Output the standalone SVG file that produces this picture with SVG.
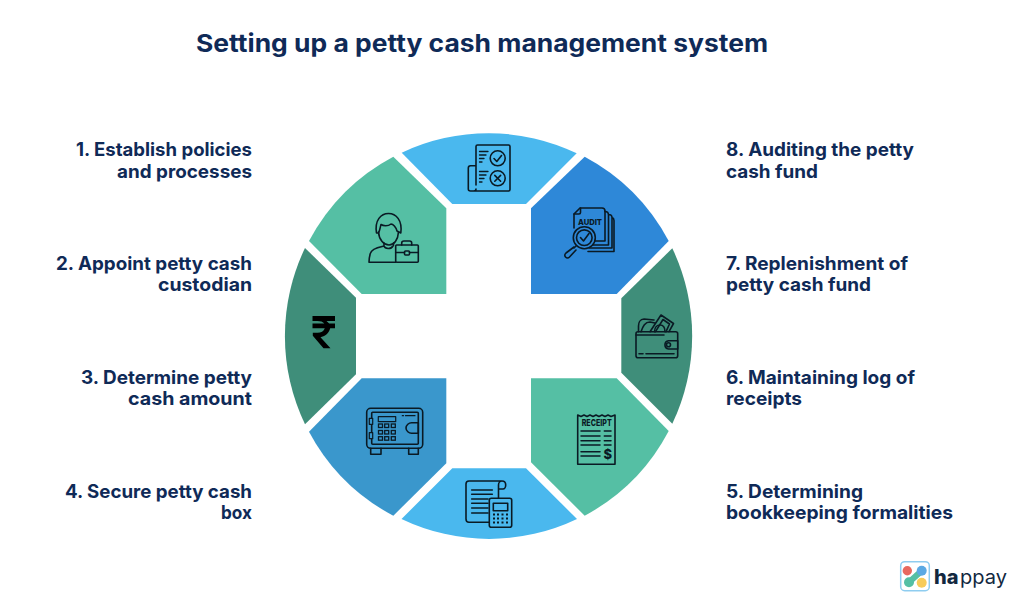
<svg xmlns="http://www.w3.org/2000/svg" width="1030" height="607" viewBox="0 0 1030 607">
<style>
text{font-family:"Inter","Liberation Sans",sans-serif}
.t{font-size:18.5px;font-weight:700;fill:#0f2a57}
.r{text-anchor:end}
.i{fill:none;stroke:#0a1a24;stroke-width:1.6;stroke-linejoin:round;stroke-linecap:round}
.k{fill:none;stroke:#0a1a24;stroke-width:1.3}
.w{font-weight:800;fill:#0a1a24}
</style>
<rect width="1030" height="607" fill="#fff"/>
<text id="title" x="196" y="52" font-size="24.5" font-weight="700" fill="#0f2a57" textLength="572" lengthAdjust="spacingAndGlyphs">Setting up a petty cash management system</text>

<g id="node-1">
<text class="t r" x="252" y="156" textLength="176" lengthAdjust="spacingAndGlyphs">1. Establish policies</text>
<text class="t r" x="252" y="177.5" textLength="135" lengthAdjust="spacingAndGlyphs">and processes</text>
<path fill="#55bfa4" d="M393.3 156.7L446.3 208.3V294H361.7L309 241A203.5 203.5 0 0 1 393.3 156.7Z"/>
<g class="i">
<path d="M376.5 233C374.5 220 381 213.5 388.5 213.5S402.500 220 400.800 233L397 231C396 227 393 224 391 224C388 226.500 383 226 381 224.500C380 228 380 230 378.500 233Z"/>
<path d="M378.500 232C379 240 384 245 389 245S398 240 398.500 232"/>
<path d="M384 243V246C380 247 372 248 370.500 253C369.500 256 369 259 369 262.300H395.700M393.500 243V245.500M384 246C385 249 391 249.500 393 246"/>
<rect x="395.700" y="245" width="22.600" height="17.300" rx="1"/>
<path d="M401.700 245V243C401.700 241.500 403 241 404 241H409.500C410.800 241 411.700 241.800 411.700 243V245M395.700 252.500H404.500M409.500 252.500H418.300"/>
<rect x="404.500" y="251" width="5" height="4" rx="1"/>
</g>
</g>

<g id="node-2">
<text class="t r" x="252" y="269.500" textLength="196" lengthAdjust="spacingAndGlyphs">2. Appoint petty cash</text>
<text class="t r" x="252" y="291" textLength="94" lengthAdjust="spacingAndGlyphs">custodian</text>
<path fill="#3f8e7a" d="M305 248L356 297.700V374.300L305 424.300A203.500 203.500 0 0 1 305 248Z"/>
<path fill="#000" d="M312.500 316H335V321H326.500Q328.300 322.500 329.200 323.500H335V328.300H330.200C329 333.500 324.500 336.500 320.500 337.200L330.500 348.300H323.500L312.800 335.800V332.700H317.500C321 332.700 323.800 331.500 324.800 328.300H312.500V323.500H324.300C323 321.800 320.500 321 317.500 321H312.500Z"/>
</g>

<g id="node-3">
<text class="t r" x="252" y="383.500" textLength="171" lengthAdjust="spacingAndGlyphs">3. Determine petty</text>
<text class="t r" x="252" y="405" textLength="124" lengthAdjust="spacingAndGlyphs">cash amount</text>
</g>

<g id="node-4">
<text class="t r" x="252" y="497.500" textLength="187" lengthAdjust="spacingAndGlyphs">4. Secure petty cash</text>
<text class="t r" x="252" y="519" textLength="31" lengthAdjust="spacingAndGlyphs">box</text>
<path fill="#3a97cc" d="M361.700 378.300H446.300V463.300L393.300 515.700A203.500 203.500 0 0 1 309 431.700Z"/>
<g class="i">
<rect x="366.700" y="408.300" width="56" height="40" rx="4"/>
<rect x="371.700" y="412.300" width="46.600" height="32" rx="1"/>
<rect x="378.300" y="416.700" width="17.400" height="5" stroke-width="1.200"/>
<path d="M418.300 422.700H411.500C409 422.700 406 425 406 428S409 433.300 411.500 433.300H418.300Z"/>
<path d="M402.300 415.700H403.500M405.500 415.700H415" stroke-width="1.200"/>
<rect x="369.300" y="418.300" width="3.400" height="6" fill="#3a97cc" stroke-width="1.200"/>
<rect x="369.300" y="432.700" width="3.400" height="6" fill="#3a97cc" stroke-width="1.200"/>
<path d="M370.700 448.300V454.300H381V448.300M408.700 448.300V454.300H418.300V448.300"/>
</g>
<g class="k">
<rect x="378.500" y="424" width="4" height="3.500"/><rect x="384.700" y="424" width="4" height="3.500"/><rect x="391.300" y="424" width="4" height="3.500"/>
<rect x="378.500" y="430.500" width="4" height="3.500"/><rect x="384.700" y="430.500" width="4" height="3.500"/><rect x="391.300" y="430.500" width="4" height="3.500"/>
<rect x="378.500" y="436.700" width="4" height="3.500"/><rect x="384.700" y="436.700" width="4" height="3.500"/><rect x="391.300" y="436.700" width="4" height="3.500"/>
</g>
</g>

<g id="node-5">
<text class="t" x="726" y="497.500" textLength="137" lengthAdjust="spacingAndGlyphs">5. Determining</text>
<text class="t" x="726" y="519" textLength="227" lengthAdjust="spacingAndGlyphs">bookkeeping formalities</text>
<path fill="#4ab8ee" d="M452.300 468.300H526L577 519A203.500 203.500 0 0 1 401.500 519Z"/>
<g class="i">
<path d="M489.300 522.300H469C467 522.300 466 521 466 519V484C466 482 467 481 469 481H502C504.500 481 505.700 483 505.700 485S504.500 489 503 489H498.500V498.300M498.500 489V485C498.500 483 500 481 502 481"/>
<path d="M471.700 490H492.300M471.700 494.300H492.300M471.700 499H488M471.700 503.300H488M471.700 508H488M471.700 513H488"/>
<rect x="489.300" y="498.300" width="22.400" height="29" rx="2"/>
<rect x="493.300" y="503.300" width="14.400" height="7.400"/>
<path d="M493 514.500H495M497 514.500H499M501.500 514.500H503.500M506 514.500H508M493 518.500H495M497 518.500H499M501.500 518.500H503.500M506 518.500H508M493 522.500H495M497 522.500H499M501.500 522.500H503.500M506 522.500H508" stroke-width="1.800" stroke-linecap="butt"/>
</g>
</g>

<g id="node-6">
<text class="t" x="726" y="383.500" textLength="189" lengthAdjust="spacingAndGlyphs">6. Maintaining log of</text>
<text class="t" x="726" y="405" textLength="76" lengthAdjust="spacingAndGlyphs">receipts</text>
<path fill="#55bfa4" d="M531 378.300H616.700L668.700 431A203.500 203.500 0 0 1 584.700 515.700L531 462.300Z"/>
<g class="i">
<path d="M577.700 464.300V415L581 416.500L584 415L587 416.500L590 415L593 416.500L596 415L599 416.500L602 415L605 416.500L608 415L611 416.500L615 415V464.300Z"/>
<path d="M581 431H600M581 436H600M581 440.700H600M581 445H600M581 451.700H600M581 456H600M604.300 431H611M604.300 436H611M604.300 440.700H611M604.300 445H611" stroke-width="1.500"/>
</g>
<text class="w" x="596.700" y="426" font-size="9" text-anchor="middle" textLength="30" lengthAdjust="spacingAndGlyphs">RECEIPT</text>
<text class="w" x="607.700" y="459" font-size="13" text-anchor="middle">$</text>
</g>

<g id="node-7">
<text class="t" x="726" y="269.500" textLength="182" lengthAdjust="spacingAndGlyphs">7. Replenishment of</text>
<text class="t" x="726" y="291" textLength="145" lengthAdjust="spacingAndGlyphs">petty cash fund</text>
<path fill="#3f8e7a" d="M672.300 248.300L621.300 298.300V372.700L672.300 423.700A203.500 203.500 0 0 0 672.300 248.300Z"/>
<g class="i">
<path d="M638.500 331.700V326C638.500 323 640 319 644 319L654 320M641 331.700C643 326 645 322 650 322L655 323"/>
<path d="M650 331.700L661 315L673.500 323.500L669 331.700M655.500 331.700L663 319.500L669.500 324L666 331.700"/>
<path d="M654.500 331.700C654.500 327 657.500 325 660 325S665 327 665 331.700"/>
<rect x="636" y="331.700" width="41.700" height="26" rx="2"/>
<path d="M636 335H664M677.700 340.700H668.500A4.200 4.200 0 0 0 668.500 349H677.700Z" fill="#3f8e7a"/>
<circle cx="668.500" cy="344.800" r="2"/>
<path d="M639 353.700H643M646 353.700H674"/>
</g>
</g>

<g id="node-8">
<text class="t" x="726" y="156" textLength="188" lengthAdjust="spacingAndGlyphs">8. Auditing the petty</text>
<text class="t" x="726" y="177.500" textLength="92" lengthAdjust="spacingAndGlyphs">cash fund</text>
<path fill="#2e88d8" d="M531 208.300L584.700 156.700A203.500 203.500 0 0 1 668.700 241L616.700 294H531Z"/>
<g class="i">
<path d="M574 228V214L580 208H602C604 208 605 209 605 211V241H590"/>
<path d="M574 214H579C580 214 580.500 213.500 580.500 212.500V208"/>
<path d="M605 211.500C607.500 211.500 608.500 213 608.500 215V245H590M608.500 214.500C611 214.500 612 216 612 217.500V248H589M612 217.500C613.700 218 614 219 614 220.500V251.500H588"/>
<circle cx="584.300" cy="237.700" r="11" fill="#2e88d8"/>
<circle cx="584.300" cy="237.700" r="7.800"/>
<path d="M580.500 237.500L583.500 241L589 233.500"/>
<path d="M576.500 245.500L574 248M574 247L566 253C564.500 254.200 564.500 256 565.500 257C566.800 258.300 568.500 258 569.500 257L576 250"/>
</g>
<text class="w" x="590" y="225" font-size="8" text-anchor="middle" textLength="24" lengthAdjust="spacingAndGlyphs">AUDIT</text>
</g>

<g id="node-top">
<path fill="#4ab8ee" d="M401.700 152.700A203.500 203.500 0 0 1 576.700 153.300L526 204H452.300Z"/>
<g class="i">
<path d="M476 185V146.500C476 145.500 476.800 145 477.500 145H508.500C509.500 145 510 145.800 510 146.500V189.500C510 190.500 509.300 191 508.500 191H470.500C469 191 468.300 190 468.300 189V168C468.300 166.500 469.300 165.700 470.500 165.700H476M476 189C476 190 475 191 473.500 191"/>
<circle cx="497.700" cy="158.300" r="7.500"/>
<circle cx="497.700" cy="178.300" r="7.500"/>
<path d="M494 158.500L496.800 161.500L501.500 155.500M494.800 175.400L500.600 181.200M500.600 175.400L494.800 181.200"/>
<path d="M479.500 151.500H488M479.500 155H486M479.500 158.500H484M479.500 162H482M479.500 171.500H488M479.500 175H486M479.500 178.500H484M479.500 182H482" stroke-width="1.300"/>
</g>
</g>

<g id="logo">
<rect x="900.700" y="561.700" width="28.600" height="29" rx="4" fill="#fff" stroke="#8fcdf0" stroke-width="1.500"/>
<path d="M909 582.300L921.700 570.700" stroke="#55bfa4" stroke-width="6"/>
<circle cx="907.300" cy="570.700" r="4.700" fill="#e8695f"/>
<circle cx="921.700" cy="570.700" r="5" fill="#5ba9e3"/>
<circle cx="909" cy="582.300" r="5" fill="#55bfa4"/>
<circle cx="921.700" cy="582.700" r="5" fill="#f7cb5a"/>
<text x="934" y="583.500" font-size="20" font-weight="800" fill="#12283f">ha</text>
<text x="960" y="583.500" font-size="20" font-weight="400" fill="#12283f">ppay</text>
</g>
</svg>
